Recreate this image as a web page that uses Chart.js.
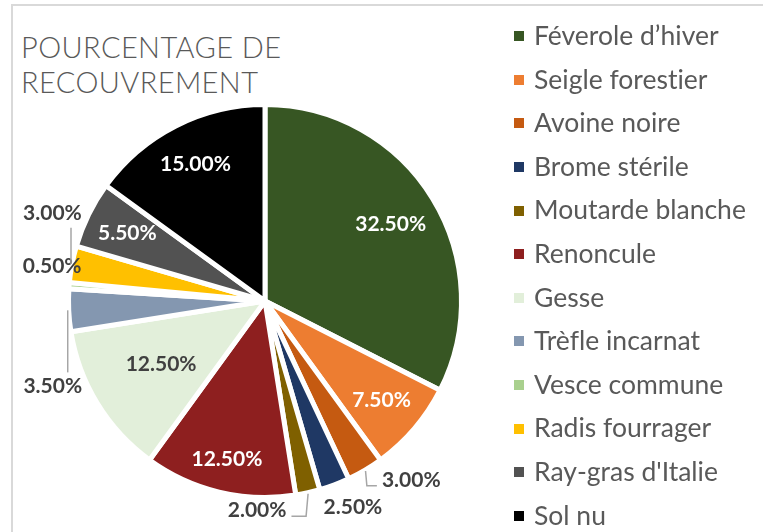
<!DOCTYPE html>
<html>
<head>
<meta charset="utf-8">
<script src="https://cdn.jsdelivr.net/npm/chart.js@4.4.1/dist/chart.umd.min.js"></script>
<style>
  html, body { margin:0; padding:0; background:#fff; }
  #wrap { position:relative; width:763px; height:532px; overflow:hidden; }
  #frame { position:absolute; left:11px; top:4px; width:800px; height:600px; border-top:2px solid #d9d9d9; border-left:2px solid #d9d9d9; }
  #title { position:absolute; left:21px; top:29px; font-family:'Lato', sans-serif; font-weight:300; font-size:29px; line-height:35px; color:#595959; letter-spacing:0.4px; }
  canvas { position:absolute; left:0; top:0; }
  #legend { position:absolute; left:514px; top:0; font-family:'Lato', sans-serif; font-size:26.5px; color:#595959; font-variant-ligatures:none; }
  .item { position:absolute; left:0; white-space:nowrap; height:30px; line-height:30px; }
  .sw { display:inline-block; width:10px; height:10px; margin-right:10px; vertical-align:middle; position:relative; top:-2px; }
</style>
</head>
<body>
<div id="wrap">
  <div id="frame"></div>
  <div id="title">POURCENTAGE DE<br>RECOUVREMENT</div>
  <canvas id="c" width="763" height="532"></canvas>
  <div id="legend"></div>
</div>
<script>
const categories = ["Féverole d’hiver","Seigle forestier","Avoine noire","Brome stérile","Moutarde blanche","Renoncule","Gesse","Trèfle incarnat","Vesce commune","Radis fourrager","Ray-gras d'Italie","Sol nu"];
const coverage = [32.5, 7.5, 3.0, 2.5, 2.0, 12.5, 12.5, 3.5, 0.5, 3.0, 5.5, 15.0];
const colors = ["#375623","#ED7D31","#C55A11","#1F3864","#7F6000","#8E1F1F","#E2EFDA","#8497B0","#A9D08E","#FFC000","#525252","#000000"];

// label placement styling (inside: radius factor + text colour; outside: shift from default anchor)
const labelStyle = {
  0:{inside:true, r:0.75, color:'#ffffff'}, 1:{inside:true, r:0.78, color:'#ffffff'}, 5:{inside:true, r:0.83, color:'#ffffff'},
  6:{inside:true, r:0.62, color:'#404040'}, 10:{inside:true, r:0.78, color:'#ffffff'}, 11:{inside:true, r:0.78, color:'#ffffff'},
  2:{shift:[34,-11], line:true}, 3:{shift:[10,0], line:false}, 4:{shift:[-56,-6], line:true},
  7:{shift:[8,75], line:true}, 8:{shift:[7,-17], line:false}, 9:{shift:[4,-46], line:true}
};

// legend
const leg = document.getElementById('legend');
categories.forEach((name,i)=>{
  const d = document.createElement('div');
  d.className='item';
  d.style.top = (35 + i*43.6 - 15) + 'px';
  d.innerHTML = '<span class="sw" style="background:'+colors[i]+'"></span>' + name;
  leg.appendChild(d);
});

const labelPlugin = {
  id:'pctLabels',
  afterDatasetsDraw(chart){
    const ctx = chart.ctx;
    const meta = chart.getDatasetMeta(0);
    ctx.save();
    ctx.font = 'bold 21px Lato, "Liberation Sans", sans-serif';
    ctx.textAlign='center'; ctx.textBaseline='middle';
    meta.data.forEach((arc,i)=>{
      const st = labelStyle[i] || {inside:true, r:0.78, color:'#ffffff'};
      const p = arc.getProps(['x','y','startAngle','endAngle','outerRadius'], true);
      const mid = (p.startAngle + p.endAngle)/2;
      const dx = Math.cos(mid), dy = Math.sin(mid);
      const txt = coverage[i].toFixed(2) + '%';
      if (st.inside){
        ctx.fillStyle=st.color;
        ctx.fillText(txt, p.x + dx*p.outerRadius*st.r, p.y + dy*p.outerRadius*st.r);
      } else {
        const R = p.outerRadius + 24;
        const lx = p.x + dx*R + st.shift[0];
        const ly = p.y + dy*R + st.shift[1];
        const w = ctx.measureText(txt).width;
        ctx.fillStyle='#404040';
        ctx.fillText(txt, lx, ly);
        if (st.line){
          const ex = p.x + dx*(p.outerRadius+1), ey = p.y + dy*(p.outerRadius+1);
          const left = lx - w/2, right = lx + w/2, top = ly - 10, bottom = ly + 10;
          const pts = [[ex,ey]];
          if (left > ex){
            const cx = left - 5, cy = ly + 6;
            pts.push([Math.max(ex, cx-10), cy]); pts.push([cx, cy]);
          } else if (right < ex){
            const cx = right + 5, cy = ly + 6;
            pts.push([ex-2, cy]); pts.push([cx, cy]);
          } else if (top > ey){
            pts.push([ex, top-4]);
          } else {
            pts.push([ex, bottom+4]);
          }
          ctx.strokeStyle='#a6a6a6'; ctx.lineWidth=1.5;
          ctx.beginPath(); ctx.moveTo(pts[0][0],pts[0][1]);
          for (let k=1;k<pts.length;k++) ctx.lineTo(pts[k][0],pts[k][1]);
          ctx.stroke();
        }
      }
    });
    ctx.restore();
  }
};

new Chart(document.getElementById('c'), {
  type:'pie',
  data:{ labels:categories, datasets:[{ data:coverage, backgroundColor:colors, borderColor:'#ffffff', borderWidth:5, hoverOffset:0, offset:0 }]},
  options:{
    responsive:false, animation:false, events:[],
    layout:{ padding:{ left:66, right:299, top:102, bottom:32 } },
    plugins:{ legend:{display:false}, tooltip:{enabled:false} }
  },
  plugins:[labelPlugin]
});
</script>
</body>
</html>
